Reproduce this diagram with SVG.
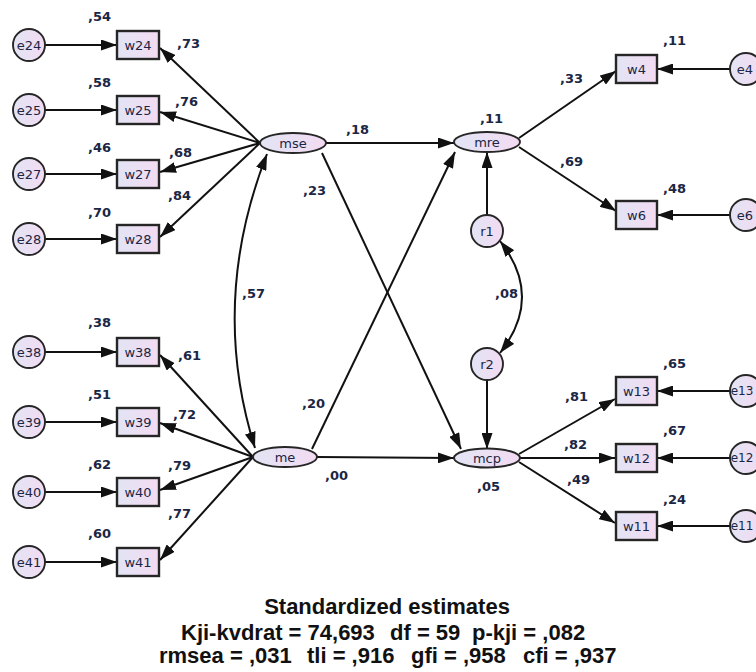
<svg xmlns="http://www.w3.org/2000/svg" width="756" height="672" viewBox="0 0 756 672">
<defs>
<linearGradient id="fillg" x1="0" y1="0" x2="1" y2="0">
<stop offset="0" stop-color="#e2e4f4"/>
<stop offset="1" stop-color="#f3dbf2"/>
</linearGradient>
<marker id="ah" viewBox="0 0 16 11" refX="16" refY="5.5" markerWidth="16" markerHeight="11" markerUnits="userSpaceOnUse" orient="auto-start-reverse">
<path d="M0,0 L16,5.5 L0,11 z" fill="#111"/>
</marker>
</defs>
<style>
.ell{fill:url(#fillg);stroke:#262626;stroke-width:1.9}
.box{fill:url(#fillg);stroke:#262626;stroke-width:2.4}
.nl{font-family:"DejaVu Sans",sans-serif;font-size:13px;fill:#1b2645;text-anchor:middle;dominant-baseline:central}
.edge{font-size:12px}
.lb{font-family:"DejaVu Sans",sans-serif;font-size:13px;font-weight:bold;fill:#1b2645}
.cn line,.cn path{stroke:#111;stroke-width:2;fill:none;marker-end:url(#ah)}
.cn .dbl{marker-start:url(#ah)}
.ft{font-family:"Liberation Sans",Arial,sans-serif;font-size:22px;font-weight:bold;fill:#111}
</style>
<rect width="756" height="672" fill="#ffffff"/>

<g id="connectors" class="cn">
<line x1="45" y1="45" x2="117" y2="45"/>
<line x1="45" y1="110" x2="117" y2="110"/>
<line x1="45" y1="174" x2="117" y2="174"/>
<line x1="45" y1="239" x2="117" y2="239"/>
<line x1="45" y1="352" x2="117" y2="352"/>
<line x1="45" y1="422" x2="117" y2="422"/>
<line x1="45" y1="492" x2="117" y2="492"/>
<line x1="45" y1="562" x2="117" y2="562"/>
<line x1="260" y1="143" x2="160" y2="48"/>
<line x1="260" y1="143" x2="160" y2="112"/>
<line x1="260" y1="143" x2="160" y2="172"/>
<line x1="260" y1="143" x2="160" y2="237"/>
<line x1="253" y1="457" x2="160" y2="355"/>
<line x1="253" y1="457" x2="160" y2="423"/>
<line x1="253" y1="457" x2="160" y2="490"/>
<line x1="253" y1="457" x2="160" y2="560"/>
<line x1="326" y1="143" x2="454" y2="143"/>
<line x1="322" y1="153" x2="461" y2="449"/>
<line x1="312" y1="449" x2="455" y2="152"/>
<line x1="317" y1="457" x2="454" y2="458"/>
<line x1="487" y1="215" x2="487" y2="152"/>
<line x1="487" y1="380" x2="487" y2="449"/>
<line x1="519" y1="138" x2="616" y2="71"/>
<line x1="519" y1="147" x2="616" y2="211"/>
<line x1="730" y1="69" x2="657" y2="69"/>
<line x1="730" y1="215" x2="657" y2="215"/>
<line x1="519" y1="454" x2="615" y2="399"/>
<line x1="520" y1="458" x2="615" y2="458"/>
<line x1="519" y1="462" x2="615" y2="523"/>
<line x1="730" y1="391" x2="657" y2="391"/>
<line x1="730" y1="458" x2="657" y2="458"/>
<line x1="730" y1="526" x2="657" y2="526"/>
<path class="dbl" d="M267,154 Q209,302 255,448"/>
<path class="dbl" d="M500,241 Q544,297 500,353"/>
</g>

<g id="e24"><circle class="ell" cx="29" cy="45" r="16"/><text class="nl" x="29" y="45">e24</text></g>
<g id="e25"><circle class="ell" cx="29" cy="110" r="16"/><text class="nl" x="29" y="110">e25</text></g>
<g id="e27"><circle class="ell" cx="29" cy="174" r="16"/><text class="nl" x="29" y="174">e27</text></g>
<g id="e28"><circle class="ell" cx="29" cy="239" r="16"/><text class="nl" x="29" y="239">e28</text></g>
<g id="e38"><circle class="ell" cx="29" cy="352" r="16"/><text class="nl" x="29" y="352">e38</text></g>
<g id="e39"><circle class="ell" cx="29" cy="422" r="16"/><text class="nl" x="29" y="422">e39</text></g>
<g id="e40"><circle class="ell" cx="29" cy="492" r="16"/><text class="nl" x="29" y="492">e40</text></g>
<g id="e41"><circle class="ell" cx="29" cy="562" r="16"/><text class="nl" x="29" y="562">e41</text></g>

<g id="w24"><rect class="box" x="117" y="31" width="42" height="28"/><text class="nl" x="138" y="45">w24</text><text class="lb" x="88" y="21">,54</text></g>
<g id="w25"><rect class="box" x="117" y="96" width="42" height="28"/><text class="nl" x="138" y="110">w25</text><text class="lb" x="88" y="87">,58</text></g>
<g id="w27"><rect class="box" x="117" y="160" width="42" height="28"/><text class="nl" x="138" y="174">w27</text><text class="lb" x="88" y="152">,46</text></g>
<g id="w28"><rect class="box" x="117" y="225" width="42" height="28"/><text class="nl" x="138" y="239">w28</text><text class="lb" x="88" y="217">,70</text></g>
<g id="w38"><rect class="box" x="117" y="338" width="42" height="28"/><text class="nl" x="138" y="352">w38</text><text class="lb" x="88" y="327">,38</text></g>
<g id="w39"><rect class="box" x="117" y="408" width="42" height="28"/><text class="nl" x="138" y="422">w39</text><text class="lb" x="88" y="399">,51</text></g>
<g id="w40"><rect class="box" x="117" y="478" width="42" height="28"/><text class="nl" x="138" y="492">w40</text><text class="lb" x="88" y="469">,62</text></g>
<g id="w41"><rect class="box" x="117" y="548" width="42" height="28"/><text class="nl" x="138" y="562">w41</text><text class="lb" x="88" y="538">,60</text></g>

<g id="mse"><ellipse class="ell" cx="293" cy="143" rx="33" ry="10"/><text class="nl" x="293" y="143">mse</text></g>
<g id="me"><ellipse class="ell" cx="285" cy="457" rx="32" ry="10"/><text class="nl" x="285" y="457">me</text></g>
<g id="mre"><ellipse class="ell" cx="487" cy="142" rx="33" ry="10"/><text class="nl" x="487" y="142">mre</text><text class="lb" x="480" y="123">,11</text></g>
<g id="mcp"><ellipse class="ell" cx="487" cy="458" rx="33" ry="9.5"/><text class="nl" x="487" y="458">mcp</text><text class="lb" x="477" y="491">,05</text></g>
<g id="r1"><circle class="ell" cx="487" cy="231" r="16"/><text class="nl" x="487" y="231">r1</text></g>
<g id="r2"><circle class="ell" cx="487" cy="364" r="16"/><text class="nl" x="487" y="364">r2</text></g>

<g id="w4"><rect class="box" x="616" y="55" width="41" height="28"/><text class="nl" x="636.5" y="69">w4</text><text class="lb" x="663" y="45">,11</text></g>
<g id="w6"><rect class="box" x="616" y="201" width="41" height="28"/><text class="nl" x="636.5" y="215">w6</text><text class="lb" x="663" y="193">,48</text></g>
<g id="w13"><rect class="box" x="616" y="377" width="41" height="28"/><text class="nl" x="636.5" y="391">w13</text><text class="lb" x="663" y="368">,65</text></g>
<g id="w12"><rect class="box" x="616" y="444" width="41" height="28"/><text class="nl" x="636.5" y="458">w12</text><text class="lb" x="663" y="435">,67</text></g>
<g id="w11"><rect class="box" x="616" y="512" width="41" height="28"/><text class="nl" x="636.5" y="526">w11</text><text class="lb" x="663" y="504">,24</text></g>

<g id="e4"><circle class="ell" cx="746" cy="69" r="16"/><text class="nl" x="745" y="69">e4</text></g>
<g id="e6"><circle class="ell" cx="746" cy="215" r="16"/><text class="nl" x="745" y="215">e6</text></g>
<g id="e13"><circle class="ell" cx="746" cy="391" r="16"/><text class="nl edge" x="742" y="391">e13</text></g>
<g id="e12"><circle class="ell" cx="746" cy="458" r="16"/><text class="nl edge" x="742" y="458">e12</text></g>
<g id="e11"><circle class="ell" cx="746" cy="526" r="16"/><text class="nl edge" x="742" y="526">e11</text></g>

<g id="path-labels">
<text class="lb" x="177" y="48">,73</text>
<text class="lb" x="175" y="106">,76</text>
<text class="lb" x="169" y="157">,68</text>
<text class="lb" x="168" y="200">,84</text>
<text class="lb" x="178" y="360">,61</text>
<text class="lb" x="173" y="419">,72</text>
<text class="lb" x="168" y="470">,79</text>
<text class="lb" x="168" y="518">,77</text>
<text class="lb" x="346" y="134">,18</text>
<text class="lb" x="303" y="195">,23</text>
<text class="lb" x="242" y="298">,57</text>
<text class="lb" x="495" y="298">,08</text>
<text class="lb" x="302" y="408">,20</text>
<text class="lb" x="325" y="480">,00</text>
<text class="lb" x="560" y="83">,33</text>
<text class="lb" x="560" y="166">,69</text>
<text class="lb" x="565" y="401">,81</text>
<text class="lb" x="564" y="449">,82</text>
<text class="lb" x="567" y="484">,49</text>
</g>

<g id="fit">
<text class="ft" x="387" y="614" text-anchor="middle">Standardized estimates</text>
<text class="ft" y="640"><tspan x="181">Kji-kvdrat = 74,693</tspan><tspan x="390">df = 59</tspan><tspan x="472">p-kji = ,082</tspan></text>
<text class="ft" y="663"><tspan x="159">rmsea = ,031</tspan><tspan x="307">tli = ,916</tspan><tspan x="411">gfi = ,958</tspan><tspan x="523">cfi = ,937</tspan></text>
</g>
</svg>
